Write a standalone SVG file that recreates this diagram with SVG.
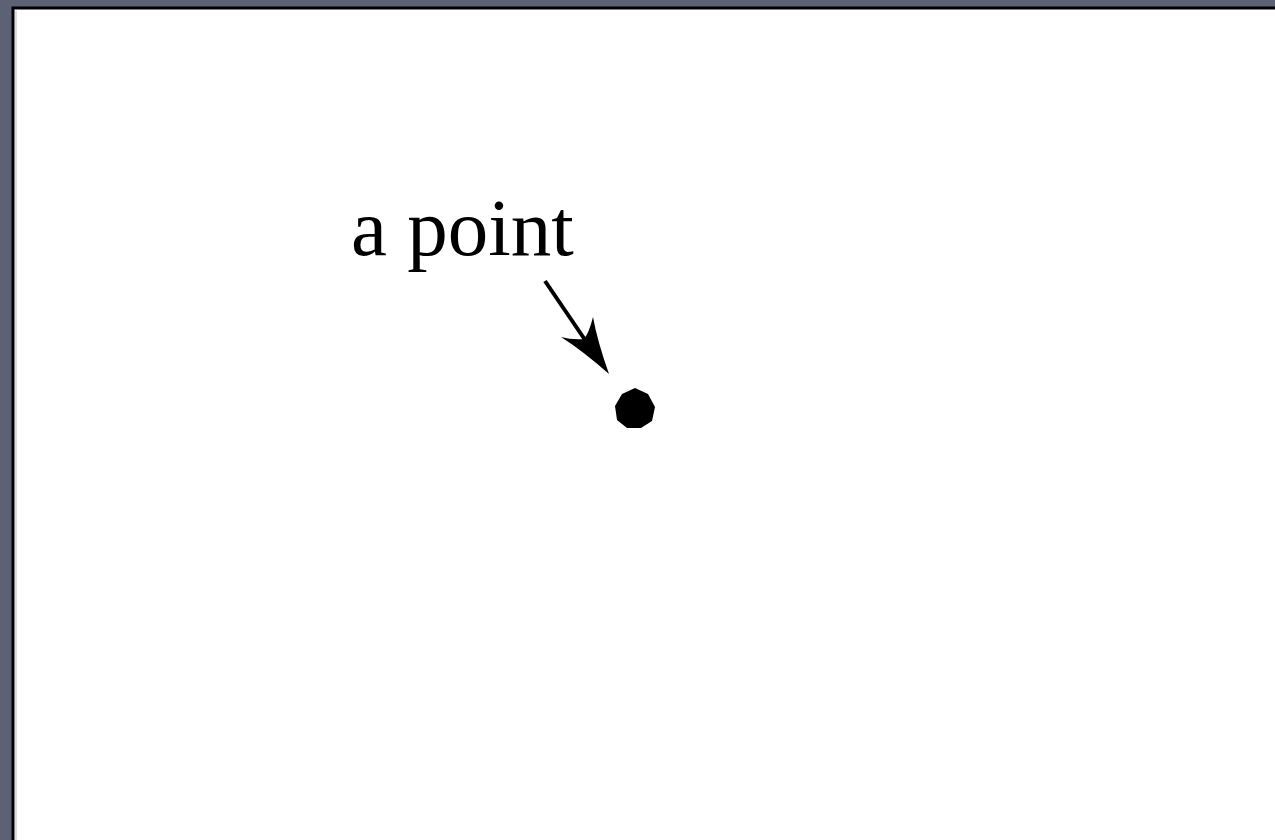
<svg xmlns="http://www.w3.org/2000/svg" width="1275" height="840" viewBox="0 0 1275 840">
<style>
.lbl{font-family:"Liberation Serif","Times New Roman",serif;font-size:81px;fill:#000}
</style>
<rect x="0" y="0" width="1275" height="840" fill="#5c6273"/>
<rect x="13" y="8" width="1270" height="840" fill="#fff" stroke="#000" stroke-width="3"/>
<line x1="16" y1="11" x2="16" y2="840" stroke="#bbb" stroke-width="1"/>
<g id="label"><text class="lbl" x="351" y="255">a point</text></g>
<g id="connectors">
<line x1="545" y1="281" x2="596" y2="356" stroke="#000" stroke-width="4"/>
<path d="M609,374 Q597,340 593,317 Q589,333 584,339 Q572,340 561,337 Q583,351 609,374 Z" fill="#000"/>
</g>
<g id="point"><polygon points="635,388 648,394 655,407 652,421 641,428 627,428 617,420 615,406 622,394" fill="#000"/></g>
</svg>
